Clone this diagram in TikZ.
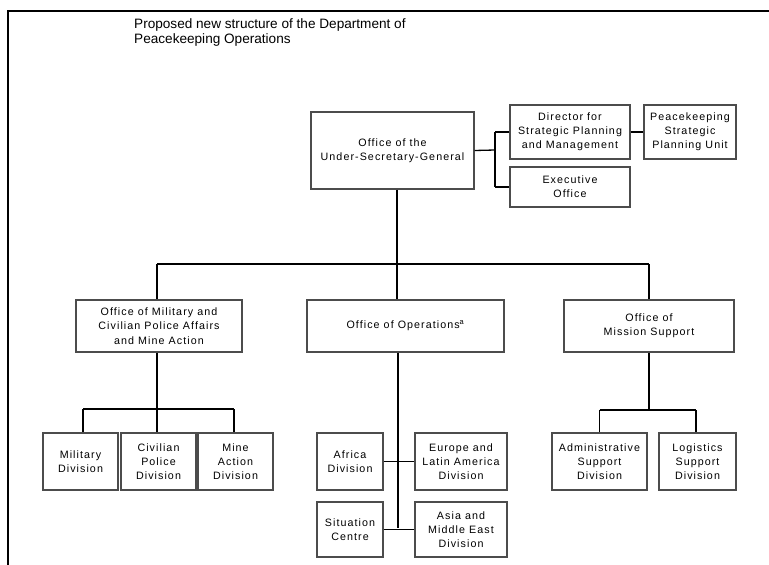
\documentclass[tikz,border=0pt]{standalone}
\usepackage{fontspec}
\setmainfont{Liberation Sans}
\newfontfamily\boxfont[LetterSpace=10]{Liberation Sans}
\newfontfamily\titlefont{Liberation Sans}
\begin{document}
\begin{tikzpicture}[x=1pt,y=-1pt,
  orgbox/.style={draw=black!70, line width=1.1pt, fill=white, align=center,
    inner sep=1pt, font=\boxfont\fontsize{10.7}{14.2}\selectfont},
  link/.style={draw=black, line width=1.3pt}]
\useasboundingbox (0,0) rectangle (769,565);
\draw[line width=1.5pt] (8,565) -- (8,11) -- (769,11);
\node[anchor=north west, align=left, inner sep=0pt,
  font=\titlefont\fontsize{13.6}{15.5}\selectfont] (title) at (134,18)
  {Proposed new structure of the Department of\\Peacekeeping Operations};

% top level
\node[orgbox, minimum width=163pt, minimum height=77pt] (usg) at (392.5,150.5) {Office of the\\Under-Secretary-General};
\node[orgbox, minimum width=120pt, minimum height=54pt] (dir) at (570,132) {Director for\\Strategic Planning\\and Management};
\node[orgbox, minimum width=92pt, minimum height=54pt] (pspu) at (690,132) {Peacekeeping\\Strategic\\Planning Unit};
\node[orgbox, minimum width=120pt, minimum height=40pt] (exec) at (570,187) {Executive\\Office};

% second level
\node[orgbox, minimum width=166pt, minimum height=52pt] (oma) at (159,326) {Office of Military and\\Civilian Police Affairs\\and Mine Action};
\node[orgbox, minimum width=197pt, minimum height=52pt] (ops) at (405.5,326) {Office of Operations\textsuperscript{a}};
\node[orgbox, minimum width=170pt, minimum height=52pt] (oms) at (649,326) {Office of\\Mission Support};

% third level
\node[orgbox, minimum width=75pt, minimum height=57pt] (mil) at (80.5,461.5) {Military\\Division};
\node[orgbox, minimum width=75pt, minimum height=57pt] (civ) at (158.5,461.5) {Civilian\\Police\\Division};
\node[orgbox, minimum width=75pt, minimum height=57pt] (mine) at (235.5,461.5) {Mine\\Action\\Division};
\node[orgbox, minimum width=66pt, minimum height=57pt] (afr) at (350,461.5) {Africa\\Division};
\node[orgbox, minimum width=92pt, minimum height=57pt] (eur) at (461,461.5) {Europe and\\Latin America\\Division};
\node[orgbox, minimum width=66pt, minimum height=55pt] (sit) at (350,529.5) {Situation\\Centre};
\node[orgbox, minimum width=92pt, minimum height=55pt] (asia) at (461,529.5) {Asia and\\Middle East\\Division};
\node[orgbox, minimum width=95pt, minimum height=57pt] (adm) at (599.5,461.5) {Administrative\\Support\\Division};
\node[orgbox, minimum width=77pt, minimum height=57pt] (log) at (697.5,461.5) {Logistics\\Support\\Division};

% junctions
\coordinate (jr) at (495,150);
\coordinate (jtop) at (397,264);
\coordinate (jl) at (157,409);
\coordinate (jm) at (398,528);
\coordinate (jrr) at (649,410);

% connectors top
\draw[link] (usg.east) -- (jr);
\draw[link] (jr |- dir.west) -- (jr |- exec.west);
\draw[link] (jr |- dir.west) -- (dir.west);
\draw[link] (jr |- exec.west) -- (exec.west);
\draw[link] (dir.east) -- (pspu.west);

% to second level
\draw[link] (jtop |- usg.south) -- (jtop);
\draw[link] (jl |- jtop) -- (oms.north |- jtop);
\draw[link] (jl |- jtop) -- (jl |- oma.north);
\draw[link] (jtop) -- (jtop |- ops.north);
\draw[link] (oms.north |- jtop) -- (oms.north);

% left group
\draw[link] (jl |- oma.south) -- (jl);
\draw[link] ([xshift=2.5pt]mil.north |- jl) -- ([xshift=-1.5pt]mine.north |- jl);
\draw[link] ([xshift=2.5pt]mil.north |- jl) -- ([xshift=2.5pt]mil.north);
\draw[link] (jl) -- (jl |- civ.north);
\draw[link] ([xshift=-1.5pt]mine.north |- jl) -- ([xshift=-1.5pt]mine.north);

% middle group
\draw[link] (jm |- ops.south) -- (jm);
\draw[link] (afr.east) -- (eur.west);
\draw[link] (sit.east) -- (asia.west);

% right group
\draw[link] (jrr |- oms.south) -- (jrr);
\draw[link] (adm.north |- jrr) -- ([xshift=-1.5pt]log.north |- jrr);
\draw[link] (adm.north |- jrr) -- (adm.north);
\draw[link] ([xshift=-1.5pt]log.north |- jrr) -- ([xshift=-1.5pt]log.north);
\end{tikzpicture}
\end{document}
